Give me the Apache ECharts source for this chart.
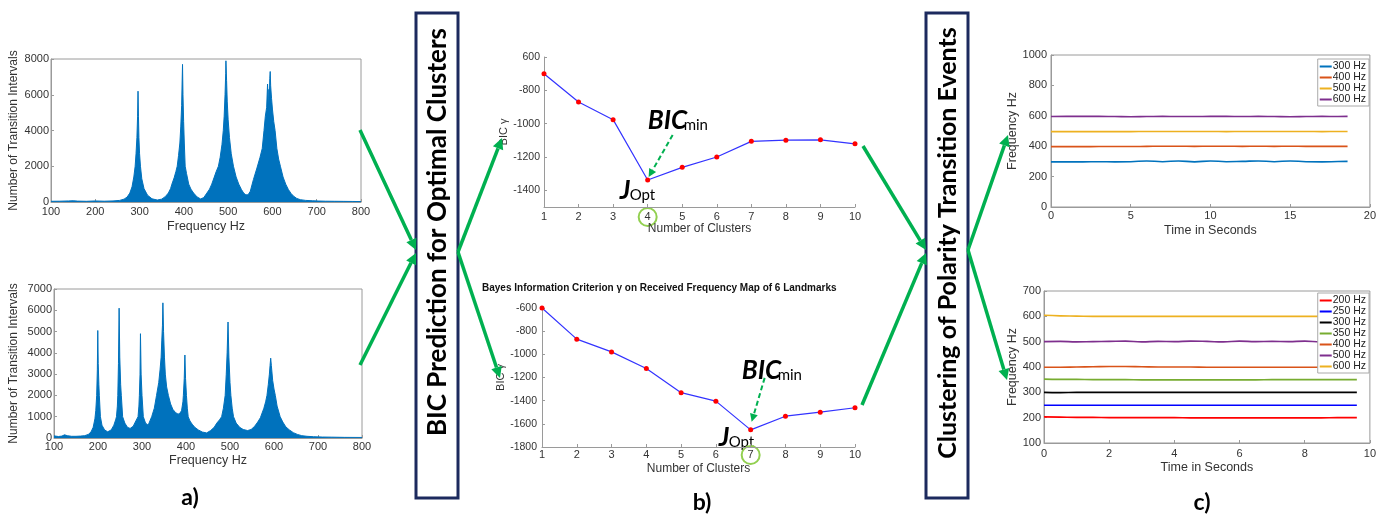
<!DOCTYPE html>
<html>
<head>
<meta charset="utf-8">
<script src="https://cdn.jsdelivr.net/npm/echarts@6/dist/echarts.min.js"></script>
<style>
html,body{margin:0;padding:0;background:#fff;width:1379px;height:514px;overflow:hidden}
.layer{position:absolute;left:0;top:0;width:1379px;height:514px}
#deco{pointer-events:none}
</style>
</head>
<body>
<div id="histTop" class="layer"></div>
<div id="histBot" class="layer"></div>
<div id="bicTop" class="layer"></div>
<div id="bicBot" class="layer"></div>
<div id="timeTop" class="layer"></div>
<div id="timeBot" class="layer"></div>
<div id="deco" class="layer"></div>
<script>
// ---------- data ----------
// histogram of transition intervals, 4 landmarks: [frequency Hz, count]
const histTopPoints = [
  [100,40],[120,45],[140,60],[150,70],[160,50],[180,40],[200,60],[220,45],[240,60],[255,90],
  [265,160],[272,280],[278,500],[283,850],[287,1400],[290,2000],[292,2700],[294,3600],[295.5,4800],[296.5,6200],
  [297.5,4800],[298.5,3600],[300,2700],[302,2000],[305,1300],[310,750],[318,380],[328,180],[340,110],[350,160],
  [358,300],[365,500],[370,750],[373,1000],[378,1350],[382,1700],[385,2000],[388,2600],[391,3300],[393,4200],
  [395,5400],[396,6600],[397,7700],[398,6000],[399.5,4500],[401,3300],[403,2000],[406,1600],[411,1000],[416,720],
  [422,500],[430,280],[438,170],[445,250],[452,500],[458,720],[463,1000],[468,1350],[473,1700],[478,2000],
  [482,2500],[486,3200],[489,4000],[491,4800],[493,6000],[494.5,7200],[495,7900],[496.5,6800],[498,5600],[500,4600],
  [503,3600],[507,2700],[512,2000],[518,1400],[524,1000],[530,700],[535,500],[540,400],[545,400],[550,600],
  [557,1250],[565,1900],[572,2500],[577,3000],[581,4000],[584,4800],[587,5300],[589,6600],[591,5200],[592,6300],
  [593,5800],[594,6900],[595,7300],[596,6500],[598,5800],[600,5200],[603,4500],[606,4000],[610,3000],[614,2400],
  [618,2000],[624,1400],[630,1000],[636,700],[642,480],[648,320],[655,200],[663,130],[675,90],[690,70],
  [705,55],[720,45],[740,40],[760,35],[780,30],[800,25]
];

// histogram of transition intervals, 7 landmarks: [frequency Hz, count]
const histBotPoints = [
  [100,100],[110,70],[118,90],[124,150],[130,110],[140,80],[150,80],[160,90],[170,110],[178,170],
  [184,280],[189,500],[193,900],[195,1300],[197,2000],[198.5,3200],[199.5,5050],[200.5,3500],[202,2500],[203,2000],
  [205.5,1000],[209,600],[215,380],[222,290],[230,380],[236,600],[240,850],[242,1000],[244,1500],[245,2000],
  [246.5,3500],[248,6100],[249.5,3800],[251.5,2500],[253,2000],[256,1000],[261,700],[267,500],[273,450],[280,550],
  [286,800],[291,1000],[293,1500],[294,2000],[295.5,3000],[296.5,4900],[298,3000],[300,2000],[303,1000],[308,700],
  [314,600],[318,650],[322,1000],[328,1400],[333,2000],[338,2600],[341,3200],[343.5,3800],[345,4600],[346.5,5300],
  [347.5,6350],[349,5000],[351,3800],[353,3000],[356,2400],[360,2000],[365,1600],[370,1350],[376,1200],[382,1120],
  [387,1180],[390,1300],[393,1700],[394,2000],[396,2800],[397.5,3900],[399,2800],[401,2000],[403,1400],[405,1000],
  [409,800],[414,650],[420,500],[428,380],[437,280],[447,240],[456,350],[464,500],[470,700],[476,850],
  [481,1000],[485,1400],[489,2000],[491.5,3000],[493.5,4000],[495.5,5450],[497.5,3800],[500,2600],[502,2000],[505,1400],
  [508,1000],[514,700],[522,500],[530,400],[540,350],[548,400],[556,550],[563,750],[569,950],[572,1000],
  [577,1400],[581,1700],[584,2000],[587,2500],[589.5,3000],[591,3400],[592.5,3750],[594,3400],[597,2700],[600,2300],
  [603,2000],[607,1500],[614,1000],[620,750],[627,520],[635,380],[644,250],[653,170],[663,110],[675,80],
  [690,60],[710,45],[730,40],[760,30],[800,25]
];

// BIC per number of clusters
const clusters = [1,2,3,4,5,6,7,8,9,10];
const bicTop = [-700,-870,-976,-1338,-1262,-1200,-1106,-1099,-1097,-1121];
const bicBot = [-600,-869,-979,-1122,-1331,-1404,-1652,-1534,-1499,-1461];
const bicTopTicks = [-1400,-1200,-1000,-800,-600];
const bicTopTickLabels = ['-1400','-1200','-1000','-800','600'];
const bicTopOpt = 4;
const bicBotOpt = 7;

// clustered frequencies over time, 4 landmarks
const timeTop = [0,1,2,3,4,5,6,7,8,9,10,11,12,13,14,15,16,17,18,18.6];
const top300 = [297,297,297,298,297,298,303,298,303,297,303,298,300,303,298,303,298,297,299,300];
const top400 = [397,397,397,398,398,398,399,400,400,399,400,400,399,400,399,400,399,399,399,399];
const top500 = [496,496,496,496,496,496,497,497,497,497,497,496,497,497,497,497,497,496,497,497];
const top600 = [595,596,596,596,595,594,595,596,595,595,596,596,595,596,595,594,595,596,595,596];
const topNames = ['300 Hz','400 Hz','500 Hz','600 Hz'];

// clustered frequencies over time, 7 landmarks
const timeBot = [0,0.5,1,1.5,2,2.5,3,3.5,4,4.5,5,5.5,6,6.5,7,7.5,8,8.5,9,9.5,9.6];
const bot200 = [203,202,201,201,200,200,200,200,200,199,199,199,199,199,199,199,199,199,200,200,200];
const bot250 = [249,249,249,249,249,249,249,249,249,249,249,249,249,249,249,249,249,249,249,249,249];
const bot300 = [300,299,300,300,300,300,300,300,300,300,300,300,300,300,300,300,300,300,300,300,300];
const bot350 = [352,351,351,350,350,350,349,349,349,349,349,349,349,349,350,350,350,350,350,350,350];
const bot400 = [399,399,400,401,402,402,401,400,400,400,399,399,399,399,399,399,399,399,399,399,399];
const bot500 = [500,501,499,500,501,502,499,501,500,502,501,499,502,500,501,500,502,499,501,500,500];
const bot600 = [604,602,601,600,600,600,600,600,600,600,600,600,600,600,600,600,600,600,600,600,600];
const botNames = ['200 Hz','250 Hz','300 Hz','350 Hz','400 Hz','500 Hz','600 Hz'];

// ---------- shared styles ----------
const FONT = '"Liberation Sans", Arial, Helvetica, sans-serif';
const AXC = '#9a9a9a';
const TXT = '#333333';
const GREEN = '#00B050';

function axis(opt) {
  const a = {
    type: 'value',
    nameLocation: 'middle',
    axisLine: {show: true, lineStyle: {color: AXC, width: 1}},
    axisTick: {show: true, inside: true, length: 3, lineStyle: {color: AXC}},
    splitLine: {show: false},
    axisLabel: {color: TXT, fontSize: opt.labelSize || 11, fontFamily: FONT,
      margin: opt.margin == null ? 4 : opt.margin, formatter: v => String(v)},
    nameTextStyle: {color: TXT, fontSize: opt.nameSize || 12.5, fontFamily: FONT}
  };
  ['min','max','interval','name','nameGap'].forEach(k => { if (opt[k] != null) a[k] = opt[k]; });
  return a;
}
function xy(ts, vs) { return ts.map((t, i) => [t, vs[i]]); }

// ---------- histograms ----------
function histChart(id, grid, points, ymax, yint, xGap, yGap, xMargin) {
  const c = echarts.init(document.getElementById(id));
  c.setOption({
    animation: false,
    grid: Object.assign({show: true, borderColor: AXC, borderWidth: 1}, grid),
    xAxis: axis({min: 100, max: 800, interval: 100, name: 'Frequency Hz', nameGap: xGap, margin: xMargin}),
    yAxis: axis({min: 0, max: ymax, interval: yint, name: 'Number of Transition Intervals', nameGap: yGap, margin: 2, nameSize: 12}),
    series: [{
      type: 'line', data: points, showSymbol: false,
      lineStyle: {color: '#0072BD', width: 1},
      areaStyle: {color: '#0072BD', opacity: 1}
    }]
  });
  return c;
}
histChart('histTop', {left: 51, top: 59, width: 310, height: 143}, histTopPoints, 8000, 2000, 18, 31, 4);
histChart('histBot', {left: 54, top: 289, width: 308, height: 149}, histBotPoints, 7000, 1000, 16, 34, 3);

// arrow built from a shaft and a triangular head
function arrow(list, x1, y1, x2, y2, o) {
  const dx = x2 - x1, dy = y2 - y1, L = Math.hypot(dx, dy);
  const ux = dx / L, uy = dy / L, px = -uy, py = ux;
  const bx = x2 - ux * o.head, by = y2 - uy * o.head;
  list.push({type: 'line', shape: {x1: x1, y1: y1, x2: bx, y2: by},
    style: {stroke: o.color, lineWidth: o.width, lineDash: o.dash || null}});
  list.push({type: 'polygon', shape: {points: [[x2, y2], [bx + px * o.headW / 2, by + py * o.headW / 2], [bx - px * o.headW / 2, by - py * o.headW / 2]]},
    style: {fill: o.color}});
}

// ---------- BIC charts ----------
function bicChart(id, grid, values, yo, xMargin, extra) {
  const c = echarts.init(document.getElementById(id));
  const y = axis({min: yo.min, max: yo.max, interval: yo.interval, name: 'BIC \u03B3', nameGap: yo.nameGap, nameSize: 11, labelSize: 10.5, margin: yo.margin});
  if (yo.customTicks) {
    y.axisLabel.customValues = yo.customTicks;
    y.axisTick.customValues = yo.customTicks;
    y.axisLabel.formatter = v => yo.customLabels[yo.customTicks.indexOf(v)];
  }
  const opt = {
    animation: false,
    grid: grid,
    xAxis: axis({min: 1, max: 10, interval: 1, name: 'Number of Clusters', nameGap: 16, nameSize: 12, margin: xMargin}),
    yAxis: y,
    series: [{
      type: 'line', data: clusters.map((k, i) => [k, values[i]]),
      symbol: 'circle', symbolSize: 5,
      itemStyle: {color: '#ff0000'},
      lineStyle: {color: '#3333ff', width: 1.2}
    }]
  };
  Object.assign(opt, extra || {});
  c.setOption(opt);
  return c;
}

function annotate(c, optX, optY, o) {
  const p = c.convertToPixel({gridIndex: 0}, [optX, optY]);
  const axisY = c.convertToPixel({gridIndex: 0}, [optX, o.yMin])[1];
  const big = 'italic bold 26px Lato, "Open Sans", sans-serif';
  const small = '15px Lato, "Open Sans", sans-serif';
  const els = [
    {type: 'text', x: p[0] + o.bic[0], y: p[1] + o.bic[1], style: {text: 'BIC', font: big, fill: '#000', verticalAlign: 'bottom'}},
    {type: 'text', x: p[0] + o.bic[0] + 36, y: p[1] + o.bic[1] - 1, style: {text: 'min', font: small, fill: '#000', verticalAlign: 'bottom'}},
    {type: 'text', x: p[0] + o.j[0], y: p[1] + o.j[1], style: {text: 'J', font: big, fill: '#000', verticalAlign: 'bottom'}},
    {type: 'text', x: p[0] + o.j[0] + 10, y: p[1] + o.j[1] - 1, style: {text: 'Opt', font: small, fill: '#000', verticalAlign: 'bottom'}},
    {type: 'circle', shape: {cx: p[0], cy: axisY + o.circleDy, r: 9}, style: {fill: 'none', stroke: '#92D050', lineWidth: 2}}
  ];
  arrow(els, p[0] + o.a1[0], p[1] + o.a1[1], p[0] + o.a2[0], p[1] + o.a2[1], {color: GREEN, width: 2, head: 8, headW: 8, dash: [5, 3]});
  c.setOption({graphic: els});
}

const cTop = bicChart('bicTop', {left: 544, top: 57, width: 311, height: 150}, bicTop,
  {min: -1500, max: -600, margin: 4, nameGap: 27, customTicks: bicTopTicks, customLabels: bicTopTickLabels}, 4);
annotate(cTop, bicTopOpt, bicTop[clusters.indexOf(bicTopOpt)],
  {yMin: -1500, bic: [0, -46], j: [-28, 24], a1: [25, -45], a2: [1, -3], circleDy: 10});

const cBot = bicChart('bicBot', {left: 542, top: 308, width: 313, height: 139}, bicBot,
  {min: -1800, max: -600, interval: 200, margin: 5, nameGap: 27}, 2,
  {title: {text: 'Bayes Information Criterion \u03B3 on Received Frequency Map of 6 Landmarks',
    left: 482, top: 283, padding: 0,
    textStyle: {fontSize: 10, fontWeight: 'bold', color: '#111', fontFamily: FONT}}});
annotate(cBot, bicBotOpt, bicBot[clusters.indexOf(bicBotOpt)],
  {yMin: -1800, bic: [-9, -46], j: [-32, 21], a1: [14, -52], a2: [1, -8], circleDy: 8});

// ---------- frequency vs time ----------
function timeChart(id, grid, xOpt, yOpt, names, colors, seriesData, legendOpt) {
  const c = echarts.init(document.getElementById(id));
  c.setOption({
    animation: false,
    grid: Object.assign({show: true, borderColor: AXC, borderWidth: 1}, grid),
    xAxis: axis(Object.assign({name: 'Time in Seconds'}, xOpt)),
    yAxis: axis(Object.assign({name: 'Frequency Hz'}, yOpt)),
    legend: Object.assign({
      data: names, orient: 'vertical', backgroundColor: '#fff', borderColor: '#aaaaaa', borderWidth: 1,
      padding: [2, 3, 1, 2], itemGap: 0, itemWidth: 12, itemHeight: 2, icon: 'rect',
      textStyle: {fontSize: 10.5, fontFamily: FONT, color: '#222', padding: [0, 0, 0, -4]}
    }, legendOpt),
    series: names.map((n, i) => ({
      name: n, type: 'line', data: seriesData[i], showSymbol: false, smooth: true,
      lineStyle: {color: colors[i], width: 1.6}, itemStyle: {color: colors[i]}
    }))
  });
  return c;
}
timeChart('timeTop', {left: 1051, top: 55, width: 321, height: 152},
  {min: 0, max: 20, interval: 5, nameGap: 17, margin: 3},
  {min: 0, max: 1000, interval: 200, nameGap: 29, margin: 4},
  topNames, ['#0072BD', '#D95319', '#EDB120', '#7E2F8E'],
  [xy(timeTop, top300), xy(timeTop, top400), xy(timeTop, top500), xy(timeTop, top600)],
  {right: 10, top: 59});
timeChart('timeBot', {left: 1044, top: 291, width: 328, height: 152},
  {min: 0, max: 10, interval: 2, nameGap: 18, margin: 5},
  {min: 100, max: 700, interval: 100, nameGap: 23, margin: 3},
  botNames, ['#FF0000', '#0000FF', '#000000', '#77AC30', '#D95319', '#7E2F8E', '#EDB120'],
  [xy(timeBot, bot200), xy(timeBot, bot250), xy(timeBot, bot300), xy(timeBot, bot350),
   xy(timeBot, bot400), xy(timeBot, bot500), xy(timeBot, bot600)],
  {right: 10, top: 293});

// ---------- process boxes, flow arrows, panel letters ----------
const deco = echarts.init(document.getElementById('deco'));
const g = [];
const NAVY = '#1c2a5e';
g.push({type: 'rect', shape: {x: 416, y: 13, width: 42, height: 485}, style: {fill: '#fff', stroke: NAVY, lineWidth: 3}});
g.push({type: 'rect', shape: {x: 926, y: 13, width: 42, height: 485}, style: {fill: '#fff', stroke: NAVY, lineWidth: 3}});
g.push({type: 'text', x: 438, y: 232, rotation: Math.PI / 2,
  style: {text: 'BIC Prediction for Optimal Clusters', font: 'bold 26px Lato, "Open Sans", sans-serif', fill: '#000', align: 'center', verticalAlign: 'middle'}});
g.push({type: 'text', x: 948, y: 243, rotation: Math.PI / 2,
  style: {text: 'Clustering of Polarity Transition Events', font: 'bold 25px Lato, "Open Sans", sans-serif', fill: '#000', align: 'center', verticalAlign: 'middle'}});
const flow = {color: GREEN, width: 3.5, head: 11, headW: 11};
arrow(g, 360, 130, 416, 250, flow);
arrow(g, 360, 365, 416, 253, flow);
arrow(g, 458, 252, 502, 138, flow);
arrow(g, 458, 252, 500, 378, flow);
arrow(g, 863, 146, 926, 250, flow);
arrow(g, 862, 405, 926, 253, flow);
arrow(g, 968, 250, 1008, 135, flow);
arrow(g, 968, 250, 1007, 380, flow);
const letterFont = 'bold 23px Lato, "Open Sans", sans-serif';
[['a)', 190, 498], ['b)', 702, 503], ['c)', 1202, 503]].forEach(l => {
  g.push({type: 'text', x: l[1], y: l[2], style: {text: l[0], font: letterFont, fill: '#000', align: 'center', verticalAlign: 'middle'}});
});
deco.setOption({animation: false, graphic: g});
</script>
</body>
</html>
